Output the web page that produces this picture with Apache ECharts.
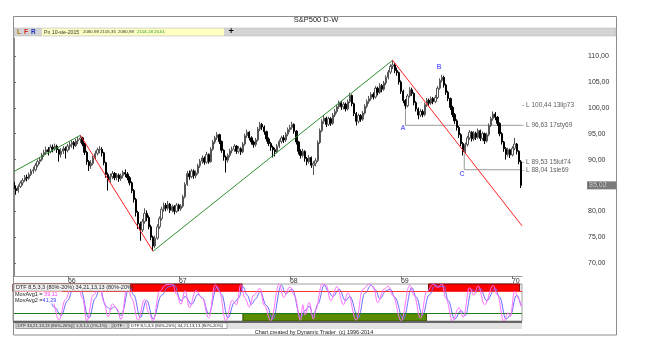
<!DOCTYPE html>
<html><head><meta charset="utf-8">
<script src="https://cdn.jsdelivr.net/npm/echarts@6/dist/echarts.min.js"></script>
<style>html,body{margin:0;padding:0;background:#fff}#c{width:657px;height:356px}</style>
</head><body><div id="c"></div><script>
// weekly bars [open, close, low, high]
const ohlc = [
[85.6,84.4,84.0,86.0],[84.4,84.0,83.2,84.9],[84.0,84.8,83.6,85.2],[84.8,85.5,84.5,85.9],[85.5,86.0,85.0,86.4],
[86.0,86.6,85.7,87.0],[86.6,86.4,85.8,87.1],[86.4,87.1,86.1,87.5],[87.1,87.8,86.8,88.2],[87.8,88.0,87.3,88.6],
[88.0,88.9,87.7,89.3],[88.9,89.6,88.5,90.0],[89.6,90.0,89.1,90.5],[90.0,90.9,89.7,91.3],[90.9,91.4,90.5,91.9],
[91.4,91.9,90.9,92.5],[91.9,91.5,90.8,92.4],[91.5,92.4,91.2,92.9],[92.4,92.1,91.4,92.9],[92.1,92.6,91.7,93.1],
[92.6,91.9,91.3,92.9],[91.9,91.0,89.6,92.1],[91.0,91.6,90.4,92.2],[91.6,92.1,91.1,92.6],[92.1,91.8,90.2,92.5],
[91.8,92.6,91.4,93.0],[92.6,92.9,91.9,93.4],[92.9,93.3,92.3,93.8],[93.3,92.7,92.0,93.6],[92.7,93.6,92.4,94.0],
[93.6,93.9,93.0,94.4],[93.9,94.2,93.2,94.7],[94.2,93.0,92.6,94.4],[93.0,91.4,90.9,93.2],[91.4,89.6,89.0,91.7],
[89.6,88.8,87.8,89.9],[88.8,89.3,88.2,89.9],[89.3,90.3,88.9,90.7],[90.3,91.2,89.9,91.7],[91.2,91.9,90.8,92.3],
[91.9,92.0,91.2,92.6],[92.0,91.3,90.6,92.4],[91.3,89.4,88.9,91.5],[89.4,87.1,86.5,89.6],[87.1,86.0,84.0,87.5],
[86.0,86.7,85.5,87.3],[86.7,87.3,86.2,87.8],[87.3,86.5,86.0,87.6],[86.5,87.0,86.0,87.4],[87.0,86.3,85.7,87.3],
[86.3,86.9,85.9,87.3],[86.9,87.5,86.4,87.9],[87.5,87.2,86.6,88.1],[87.2,86.5,86.0,87.6],[86.5,85.5,85.0,86.8],
[85.5,84.0,83.5,85.8],[84.0,82.3,81.7,84.3],[82.3,79.8,79.0,82.6],[79.8,77.6,76.6,80.1],[77.6,76.4,74.3,78.0],
[76.4,78.0,76.0,78.5],[78.0,79.6,77.6,80.6],[79.6,78.8,78.1,80.2],[78.8,77.0,76.5,79.2],[77.0,75.0,74.4,77.4],
[75.0,73.3,72.3,75.3],[73.3,74.8,72.9,75.3],[74.8,77.0,74.5,77.5],[77.0,78.6,76.6,79.0],[78.6,80.4,78.2,80.9],
[80.4,81.2,79.9,81.7],[81.2,80.6,80.0,81.6],[80.6,81.4,80.2,82.0],[81.4,80.2,79.7,81.6],[80.2,80.9,79.8,81.3],
[80.9,80.0,79.4,81.2],[80.0,81.2,79.7,81.6],[81.2,80.5,80.0,81.5],[80.5,81.0,80.1,81.4],[81.0,82.8,80.7,83.2],
[82.8,85.2,82.5,85.6],[85.2,87.3,84.9,87.8],[87.3,86.7,86.1,87.9],[86.7,87.8,86.4,88.2],[87.8,86.9,86.3,88.1],
[86.9,87.4,86.4,87.9],[87.4,88.8,87.1,89.2],[88.8,89.7,88.4,90.1],[89.7,90.3,89.2,90.8],[90.3,89.5,89.0,90.6],
[89.5,91.0,89.2,91.5],[91.0,89.6,89.2,91.2],[89.6,92.0,89.4,92.4],[92.0,93.4,91.7,93.8],[93.4,94.2,93.0,94.6],
[94.2,94.8,93.8,95.3],[94.8,93.5,93.0,95.0],[93.5,91.8,91.3,93.7],[91.8,90.5,89.8,92.0],[90.5,89.9,87.5,90.8],
[89.9,90.8,89.4,91.2],[90.8,91.7,90.4,92.1],[91.7,92.0,91.2,92.5],[92.0,92.6,91.5,93.0],[92.6,91.6,91.1,92.8],
[91.6,92.1,91.2,92.6],[92.1,91.5,90.9,92.4],[91.5,93.0,91.2,93.4],[93.0,94.6,92.7,95.0],[94.6,95.3,94.2,95.8],
[95.3,94.2,93.7,95.5],[94.2,93.4,92.9,94.5],[93.4,92.9,92.3,93.7],[92.9,93.8,92.5,94.2],[93.8,95.9,93.5,96.3],
[95.9,96.8,95.5,97.3],[96.8,96.3,95.7,97.1],[96.3,95.4,94.8,96.6],[95.4,94.0,93.5,95.6],[94.0,93.1,92.6,94.3],
[93.1,92.4,91.7,93.4],[92.4,91.9,90.4,92.7],[91.9,91.5,90.6,92.3],[91.5,92.6,91.2,93.0],[92.6,93.5,92.2,93.9],
[93.5,94.2,93.1,94.6],[94.2,93.8,93.2,94.7],[93.8,94.9,93.4,95.3],[94.9,95.8,94.5,96.2],[95.8,96.2,95.3,96.7],
[96.2,96.8,95.8,97.3],[96.8,95.5,95.0,97.0],[95.5,93.4,92.9,95.7],[93.4,91.6,91.0,93.6],[91.6,90.8,90.2,92.0],
[90.8,91.6,90.4,92.1],[91.6,90.2,89.6,91.8],[90.2,89.6,88.9,90.5],[89.6,90.4,89.2,90.9],[90.4,88.9,88.4,90.6],
[88.9,89.3,87.0,89.7],[89.3,89.8,88.7,90.3],[89.8,93.3,89.5,93.7],[93.3,95.6,93.0,96.0],[95.6,97.4,95.3,97.8],
[97.4,98.0,96.9,98.6],[98.0,96.8,96.3,98.3],[96.8,97.9,96.5,98.3],[97.9,97.0,96.5,98.2],[97.0,98.6,96.7,99.0],
[98.6,99.3,98.2,99.8],[99.3,100.2,98.9,100.6],[100.2,101.0,99.8,101.4],[101.0,100.2,99.6,101.3],[100.2,100.7,99.7,101.1],
[100.7,99.8,99.3,101.0],[99.8,101.2,99.5,101.6],[101.2,102.4,100.9,102.9],[102.4,100.8,100.3,102.6],[100.8,98.9,98.4,101.0],
[98.9,97.4,96.6,99.2],[97.4,98.5,97.0,98.9],[98.5,97.8,97.3,98.8],[97.8,99.0,97.5,99.4],[99.0,100.3,98.7,100.7],
[100.3,101.2,99.9,101.6],[101.2,101.8,100.8,102.3],[101.8,102.6,101.4,103.0],[102.6,102.1,101.6,103.0],[102.1,103.8,101.8,104.2],
[103.8,103.0,102.4,104.1],[103.0,104.3,102.7,104.8],[104.3,103.6,103.0,104.6],[103.6,104.8,103.3,105.2],[104.8,105.9,104.4,106.3],
[105.9,106.9,105.5,107.3],[106.9,108.0,106.5,108.4],[108.0,108.3,107.5,109.2],[108.3,107.2,106.7,108.6],[107.2,106.8,106.2,107.8],
[106.8,105.0,104.5,107.0],[105.0,103.2,102.7,105.3],[103.2,101.4,100.9,103.5],[101.4,100.4,99.8,101.7],[100.4,102.3,100.1,102.7],
[102.3,103.5,102.0,104.0],[103.5,102.8,102.3,103.9],[102.8,101.0,100.5,103.0],[101.0,99.8,99.3,101.3],[99.8,98.6,97.8,100.1],
[98.6,99.3,98.2,99.8],[99.3,98.7,98.2,99.7],[98.7,100.6,98.4,101.0],[100.6,101.5,100.2,101.9],[101.5,100.9,100.4,101.8],
[100.9,101.8,100.6,102.2],[101.8,101.2,100.7,102.1],[101.2,102.0,100.9,102.5],[102.0,103.8,101.7,104.2],[103.8,105.3,103.5,105.7],
[105.3,105.9,104.9,106.4],[105.9,104.4,103.9,106.2],[104.4,103.0,102.5,104.7],[103.0,101.8,101.3,103.3],[101.8,100.1,99.6,102.0],
[100.1,98.7,98.2,100.4],[98.7,97.5,96.9,99.0],[97.5,96.2,95.6,97.8],[96.2,94.8,94.2,96.5],[94.8,93.1,92.6,95.1],
[93.1,91.5,90.8,93.4],[91.5,92.9,91.1,93.3],[92.9,94.2,92.5,94.6],[94.2,95.3,93.8,95.7],[95.3,94.0,93.5,95.5],
[94.0,95.1,93.6,95.5],[95.1,94.3,93.8,95.4],[94.3,95.6,94.0,96.0],[95.6,94.1,93.6,95.8],[94.1,95.0,93.7,95.4],
[95.0,93.6,93.0,95.2],[93.6,94.8,93.3,95.2],[94.8,96.6,94.5,97.0],[96.6,97.9,96.3,98.3],[97.9,98.8,97.5,99.3],
[98.8,98.2,97.6,99.2],[98.2,97.0,96.5,98.4],[97.0,95.0,94.5,97.2],[95.0,93.4,92.9,95.3],[93.4,92.1,91.5,93.6],
[92.1,91.0,90.0,92.4],[91.0,91.9,90.6,92.3],[91.9,90.9,90.3,92.1],[90.9,92.2,90.6,92.6],[92.2,93.0,91.8,94.2],
[93.0,91.6,91.0,93.2],[91.6,89.6,89.1,91.8],[89.6,85.02,84.5,89.9]
];
// x axis year ticks (bar position) and labels
const yearTicks = [25.2, 77.1, 129.0, 180.9, 232.8];
const yearLabels = ['66','67','68','69','70'];
const priceTicks = [70,75,80,85,90,95,100,105,110];
// trend lines [bar, price]
const trendGreen1 = [[-0.5,87.6],[31,94.7]];
const trendRed1 = [[31,94.7],[65,72.3]];
const trendGreen2 = [[65,72.3],[177,109.2]];
const trendRed2 = [[177,109.2],[237.5,77.2]];
// A and C levels
const levelA = [[183,100.2],[183,96.63],[237.5,96.63]];
const levelC = [[210.5,91.2],[210.5,88.04],[237.5,88.04]];
const levelValues = [100.44, 96.63, 89.53, 88.04];
const levelTexts = ['L 100,44 13lip73','L 96,63 17sty69','L 89,53 15lut74','L 88,04 1sie69'];
const waveLabels = [['A',181.9,96.0],['B',198.7,107.9],['C',209.4,87.2]];
const lastPrice = 85.02;
// oscillator turning points [bar, value]
const movAvg1 = [[-0.5,70],[3,55],[6,82],[9,92],[12,86],[15,62],[18,52],[21,2],[24,58],[27,99],[30,92],[32,62],[34,0],[37,70],[40,96],[42,52],[44,12],[46,46],[48,34],[50,4],[53,97],[55,62],[58,2],[61,58],[63,22],[65,1],[68,80],[71,98],[74,100],[76,72],[78,45],[80,82],[82,36],[85,82],[88,62],[91,8],[94,98],[96,80],[99,0],[102,56],[104,44],[106,98],[108,62],[110,38],[112,70],[115,88],[117,42],[120,1],[124,100],[126,64],[129,92],[131,70],[134,2],[135,44],[136,16],[138,50],[140,5],[141,30],[144,100],[146,96],[148,55],[151,93],[154,44],[156,76],[160,2],[163,85],[166,100],[168,92],[170,50],[173,86],[175,94],[177,70],[181,1],[185,97],[187,70],[190,8],[193,80],[196,100],[198,90],[200,100],[202,60],[205,0],[208,36],[210,10],[213,90],[215,70],[217,95],[220,44],[224,96],[226,70],[229,0],[231,22],[232,12],[234,80],[236,60],[237,39.11]];
const movAvg2 = [[-0.5,66],[4,62],[8,82],[12,87],[16,63],[19,36],[22,15],[25,55],[28,94],[31,86],[35,8],[38,62],[40,88],[43,40],[45,32],[47,38],[50,15],[54,93],[56,70],[59,9],[62,56],[65,6],[69,70],[72,92],[75,97],[78,55],[80,66],[83,45],[86,72],[88,63],[91,20],[95,93],[97,72],[100,8],[103,50],[105,62],[107,93],[109,70],[111,45],[113,60],[115,80],[118,42],[121,5],[125,97],[127,74],[130,86],[134,10],[136,28],[138,40],[140,12],[142,45],[145,97],[147,80],[149,66],[152,86],[155,55],[157,66],[161,8],[164,75],[167,97],[169,84],[171,60],[174,82],[176,86],[178,64],[182,5],[186,90],[188,65],[191,15],[194,70],[197,97],[199,92],[201,95],[203,55],[206,5],[209,28],[211,15],[214,85],[216,78],[218,88],[221,55],[225,88],[227,65],[230,5],[232,15],[235,70],[237,41.29]];
const redZones = [[-0.5,106.6],[193.8,236.4]];
const greenZones = [[107,192.8]];
const oscUpper = 80, oscLower = 20;

const FF = 'Liberation Sans';
const candleData = ohlc.map((r,i)=>[i, r[0], r[1], r[2], r[3]]);
const fmt = v => v.toFixed(2).replace('.', ',');

function lineSeries(data, color){
  return {type:'line', xAxisIndex:0, yAxisIndex:0, data, symbol:'none', silent:true,
    lineStyle:{color, width:1}, z:3};
}
function T(text,x,y,size,fill,weight,align){
  return {type:'text', z:100, style:{text, x, y, font:(weight||'normal')+' '+size+'px "'+FF+'"', fill, align:align||'left', verticalAlign:'middle'}};
}

const chart = echarts.init(document.getElementById('c'), null, {renderer:'canvas'});
const markAreaData = [];
redZones.forEach(z=>markAreaData.push([{coord:[z[0],oscUpper], itemStyle:{color:'#ff0000', borderColor:'#7a0000', borderWidth:1}},{coord:[z[1],100]}]));
greenZones.forEach(z=>markAreaData.push([{coord:[z[0],0], itemStyle:{color:'#5b8c00', borderColor:'#2e4a00', borderWidth:1}},{coord:[z[1],oscLower]}]));

chart.setOption({
  animation:false,
  textStyle:{fontFamily:FF},
  grid:[
    {left:13, right:135, top:38, height:238, show:false},
    {left:13, right:135, top:284, height:37, show:true, borderColor:'#a0a0a0', borderWidth:1, backgroundColor:'#fff'}
  ],
  xAxis:[
    {type:'value', gridIndex:0, min:-0.5, max:237.5, splitLine:{show:false},
     axisLine:{show:true, onZero:false, lineStyle:{color:'#9a9a9a'}},
     axisTick:{show:true, customValues:yearTicks, length:3, lineStyle:{color:'#777'}},
     axisLabel:{customValues:yearTicks, fontSize:7, color:'#333', margin:2, align:'left',
       formatter:v=>{const k=yearTicks.findIndex(t=>Math.abs(t-v)<0.01); return k>=0?yearLabels[k]:'';}}},
    {type:'value', gridIndex:1, min:-0.5, max:237.5, show:false}
  ],
  yAxis:[
    {type:'value', gridIndex:0, position:'right', offset:64, min:67.5, max:113.5, splitLine:{show:false},
     axisLine:{show:true, lineStyle:{color:'#8a8a8a'}},
     axisTick:{show:true, customValues:priceTicks, length:2, lineStyle:{color:'#666'}},
     axisLabel:{customValues:priceTicks, fontSize:7, color:'#333', margin:2, formatter:fmt}},
    {type:'value', gridIndex:1, min:0, max:100, show:false}
  ],
  series:[
    {type:'candlestick', xAxisIndex:0, yAxisIndex:0, data:candleData, barWidth:1.8, silent:true, z:2,
     itemStyle:{color:'#ffffff', color0:'#000000', borderColor:'#555555', borderColor0:'#000000', borderWidth:1}},
    lineSeries(trendGreen1,'#2f8f2f'),
    lineSeries(trendRed1,'#ff2020'),
    lineSeries(trendGreen2,'#2f8f2f'),
    lineSeries(trendRed2,'#ff2020'),
    Object.assign(lineSeries(levelA,'#9a9a9a'),{z:2}),
    Object.assign(lineSeries(levelC,'#9a9a9a'),{z:2}),
    {type:'scatter', xAxisIndex:0, yAxisIndex:0, silent:true, clip:false, symbolSize:0.1, itemStyle:{color:'rgba(0,0,0,0)'},
     data:levelValues.map((v,i)=>({value:[237.5,v], label:{formatter:'- '+levelTexts[i]}})),
     label:{show:true, position:'right', distance:0, fontSize:6.5, color:'#333'}},
    {type:'scatter', xAxisIndex:0, yAxisIndex:0, silent:true, clip:false, symbolSize:0.1, itemStyle:{color:'rgba(0,0,0,0)'},
     data:waveLabels.map(w=>({value:[w[1],w[2]], label:{formatter:w[0]}})),
     label:{show:true, position:'inside', fontSize:7, fontWeight:'bold', color:'#4a4aff'}},
    {type:'scatter', xAxisIndex:0, yAxisIndex:0, silent:true, clip:false, symbolSize:0.1, itemStyle:{color:'rgba(0,0,0,0)'},
     data:[[237.5,lastPrice]], z:10,
     label:{show:true, position:'right', distance:65, formatter:p=>fmt(p.value[1]), fontSize:7, color:'#e8e8e8',
       backgroundColor:'#5a5a5a', padding:[1,2,0,2], width:26}},
    {type:'line', xAxisIndex:1, yAxisIndex:1, data:movAvg2, symbol:'none', smooth:0.4, smoothMonotone:'x', silent:true,
     lineStyle:{color:'#6a6aff', width:1}, z:4,
     markArea:{silent:true, data:markAreaData},
     markLine:{silent:true, symbol:'none', label:{show:false},
       data:[{yAxis:oscUpper, lineStyle:{color:'#ff3030', width:1.2, type:'solid'}},{yAxis:oscLower, lineStyle:{color:'#1e7b1e', width:1.2, type:'solid'}}]}},
    {type:'line', xAxisIndex:1, yAxisIndex:1, data:movAvg1, symbol:'none', smooth:0.4, smoothMonotone:'x', silent:true,
     lineStyle:{color:'#ff70ff', width:1}, z:5}
  ],
  graphic:[
    {type:'rect', z:90, shape:{x:13.5, y:16.5, width:603, height:318.5}, style:{fill:'none', stroke:'#8c8c8c', lineWidth:1}},
    T('S&P500 D-W', 316, 20, 7.5, '#222', 'normal', 'center'),
    {type:'rect', z:95, shape:{x:14, y:28, width:602, height:8}, style:{fill:'#d4d4d4', stroke:'#b0b0b0', lineWidth:0.5}},
    T('L',17,32.2,6.5,'#b07000','bold'),
    T('F',24,32.2,6.5,'#e02020','bold'),
    T('R',31,32.2,6.5,'#2030c0','bold'),
    {type:'rect', z:96, shape:{x:42, y:28.5, width:182, height:7}, style:{fill:'#ffffc4'}},
    T('Pn 10-sie-2015',44,32.2,5.2,'#333'),
    T('2080,98',83,32.2,4.4,'#333'),
    T('2105,35',100,32.2,4.4,'#333'),
    T('2080,98',118,32.2,4.4,'#333'),
    T('2104,18',137,32.2,4.4,'#2a9a2a'),
    T('26,61',154,32.2,4.4,'#2a9a2a'),
    T('+',228.5,32,9,'#000','bold'),
    {type:'rect', z:98, shape:{x:14, y:284, width:116, height:7}, style:{fill:'#f2f2f2', stroke:'#999', lineWidth:0.6}},
    T('DTF 8,5,3,3 (80%-20%) 34,21,13,13 (80%-20%)',16,287.7,5.5,'#222'),
    {type:'rect', z:98, shape:{x:14, y:291.5, width:48, height:12}, style:{fill:'#fff'}},
    {type:'text', z:100, style:{x:15, y:294.5, verticalAlign:'middle', text:'{a|MovAvg1 =}{m| 39,11}', rich:{a:{fontSize:5.5, fill:'#222', fontFamily:FF}, m:{fontSize:5.5, fill:'#ff40ff', fontFamily:FF}}}},
    {type:'text', z:100, style:{x:15, y:300.5, verticalAlign:'middle', text:'{a|MovAvg2 =}{m|41,29}', rich:{a:{fontSize:5.5, fill:'#222', fontFamily:FF}, m:{fontSize:5.5, fill:'#3a3aff', fontFamily:FF}}}},
    {type:'line', z:99, shape:{x1:13, y1:322, x2:522, y2:322}, style:{stroke:'#666', lineWidth:2}},
    {type:'rect', z:97, shape:{x:14, y:323, width:508, height:6}, style:{fill:'#e2e2e2'}},
    {type:'rect', z:98, shape:{x:16, y:323, width:57, height:5.5}, style:{fill:'#d8d8d8', stroke:'#777', lineWidth:0.6}},
    T('DTF 34,21,13,13 (80%-20%)',17.5,326,4.3,'#222'),
    {type:'rect', z:98, shape:{x:74, y:323, width:38, height:5.5}, style:{fill:'#d8d8d8', stroke:'#777', lineWidth:0.6}},
    T('1,3,1,1 (1%-1%)',76,326,4.3,'#222'),
    {type:'rect', z:98, shape:{x:113, y:323, width:15, height:5.5}, style:{fill:'#d8d8d8', stroke:'#777', lineWidth:0.6}},
    T('DTF :',114,326,4.3,'#222'),
    {type:'rect', z:98, shape:{x:129, y:323, width:98, height:5.5}, style:{fill:'#ffffff', stroke:'#777', lineWidth:0.6}},
    T('DTF 8,5,3,3 (80%-20%) 34,21,13,13 (80%-20%)',131,326,4.3,'#222'),
    T('Chart created by Dynamic Trader  (c) 1996-2014',314,332,5.5,'#222','normal','center')
  ]
});
</script></body></html>
